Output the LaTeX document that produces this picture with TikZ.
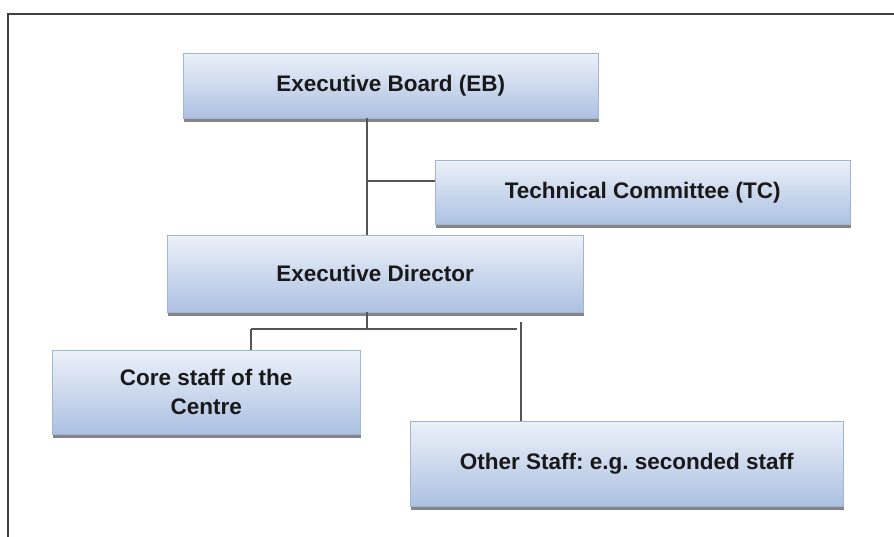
\documentclass[tikz,border=0pt]{standalone}
\usepackage{fontspec}
\setmainfont{Liberation Sans}
\frenchspacing
\usetikzlibrary{shadows}
\definecolor{boxtop}{RGB}{236,241,249}
\definecolor{boxbot}{RGB}{172,193,226}
\definecolor{linegray}{RGB}{85,85,85}
\tikzset{
	orgbox/.style={rectangle, anchor=north west, inner sep=0pt, align=center,
		top color=boxtop, bottom color=boxbot, draw=boxbot!80!gray, line width=0.4pt,
		drop shadow={shadow xshift=1pt, shadow yshift=-4pt, fill=black!60, opacity=0.8},
		font=\fontsize{22.5}{29}\selectfont\bfseries, text=black!90},
	link/.style={line width=2pt, color=linegray}
}
\begin{document}
\begin{tikzpicture}[x=1pt, y=-1pt]
			%%%%% START %%%%%
			\useasboundingbox (0, 0) rectangle (894, 537);
			
			% frame
			\draw[line width=2pt, color=black!75] (8, 537) -- (8, 14) -- (894, 14);
			
			% boxes
			\node[orgbox, minimum width=415pt, minimum height=65pt] (eb) at (183, 53) {Executive Board (EB)};
			\node[orgbox, minimum width=415pt, minimum height=64pt] (tc) at (435, 160) {Technical Committee (TC)};
			\node[orgbox, minimum width=416pt, minimum height=77pt] (ed) at (167, 235) {Executive Director};
			\node[orgbox, minimum width=308pt, minimum height=84pt] (core) at (52, 350) {Core staff of the\\Centre};
			\node[orgbox, minimum width=433pt, minimum height=85pt] (other) at (410, 421) {Other Staff: e.g. seconded staff};
			
			% branch points
			\coordinate (spine) at (367, 181);
			\coordinate (bus) at (367, 329);
			\coordinate (busleft) at (251, 329);
			\coordinate (busright) at (517, 329);
			\coordinate (drop) at (521, 322);
			
			% connectors
			\draw[link] (eb.south -| spine) -- (ed.north -| spine);
			\draw[link] (spine) -- (spine -| tc.west);
			\draw[link] (ed.south -| bus) -- (bus);
			\draw[link] (busleft) -- (busright);
			\draw[link] (busleft) -- (busleft |- core.north);
			\draw[link] (drop) -- (drop |- other.north);
			
			%%%%% END %%%%%
\end{tikzpicture}
\end{document}
